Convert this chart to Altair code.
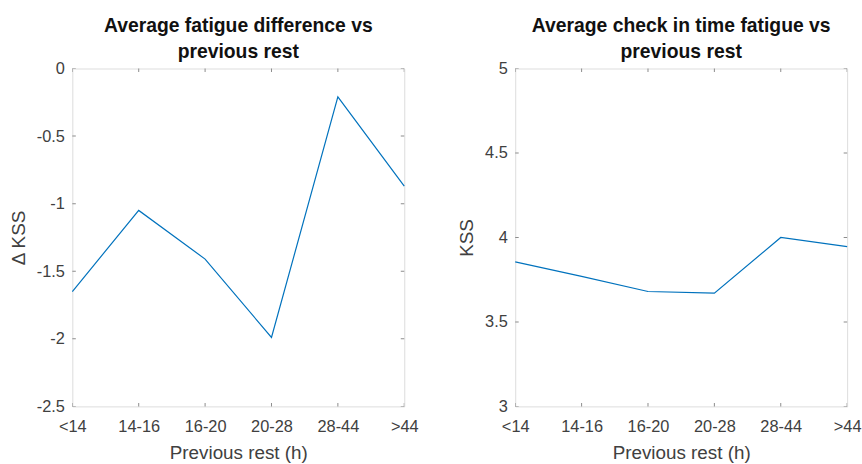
import altair as alt
import pandas as pd

categories = ["<14", "14-16", "16-20", "20-28", "28-44", ">44"]
fatigue_diff = [-1.65, -1.05, -1.41, -1.99, -0.21, -0.87]
checkin_kss = [3.855, 3.77, 3.68, 3.67, 4.00, 3.946]
left_yticks = [-2.5, -2, -1.5, -1, -0.5, 0]
right_yticks = [3, 3.5, 4, 4.5, 5]
left_title = ["Average fatigue difference vs", "previous rest"]
right_title = ["Average check in time fatigue vs", "previous rest"]
x_title = "Previous rest (h)"
left_ytitle = "Δ KSS"
right_ytitle = "KSS"

FONT = "Liberation Sans"
LINE = "#0072BD"
AX = "#8c8c8c"
TXT = "#404040"
W, H = 335, 341


def panel(values, yticks, title, ytitle):
    ymin, ymax = yticks[0], yticks[-1]
    df = pd.DataFrame({"cat": categories, "v": values})
    xs = alt.X("cat:N", sort=categories,
               scale=alt.Scale(type="point", padding=0, domain=categories),
               axis=alt.Axis(title=x_title, ticks=False, domain=False, labelAngle=0,
                             labelPadding=12, labelFlush=False, labelOverlap=False,
                             labelFontSize=16.5, titleFontSize=19, titlePadding=9,
                             labelColor=TXT, titleColor=TXT, labelFont=FONT,
                             titleFont=FONT, titleFontWeight="normal", grid=False))
    ys = alt.Y("v:Q", scale=alt.Scale(domain=[ymin, ymax], nice=False, zero=False),
               axis=alt.Axis(title=ytitle, values=yticks, ticks=False, domain=False,
                             labelExpr="toString(datum.value)", labelPadding=8,
                             labelFontSize=16.5, titleFontSize=19, titlePadding=8,
                             labelColor=TXT, titleColor=TXT, labelFont=FONT,
                             titleFont=FONT, titleFontWeight="normal", grid=False))
    line = alt.Chart(df).mark_line(color=LINE, strokeWidth=1.2).encode(x=xs, y=ys)

    xt = pd.DataFrame([{"cat": c, "v": b} for c in categories for b in (ymin, ymax)])
    xticks = alt.Chart(xt).mark_tick(orient="vertical", size=7, thickness=1,
                                     color=AX, clip=True, opacity=1).encode(
        x=alt.X("cat:N", sort=categories), y="v:Q")
    yt = pd.DataFrame([{"cat": c, "v": t} for c in (categories[0], categories[-1]) for t in yticks])
    yticks_m = alt.Chart(yt).mark_tick(orient="horizontal", size=7, thickness=1,
                                       color=AX, clip=True, opacity=1).encode(
        x=alt.X("cat:N", sort=categories), y="v:Q")

    return alt.layer(line, xticks, yticks_m).properties(
        width=W, height=H,
        title=alt.TitleParams(title, fontSize=19.5, fontWeight="bold", font=FONT,
                              color="#111111", lineHeight=26, offset=-2, anchor="middle"))


left = panel(fatigue_diff, left_yticks, left_title, left_ytitle)
right = panel(checkin_kss, right_yticks, right_title, right_ytitle)

chart = alt.hconcat(left, right, spacing=38).properties(
    padding={"left": 9, "top": 14, "right": 0, "bottom": 0}
).configure_view(stroke=AX, strokeWidth=1.3).configure(background="white")

chart.save("out.html", embed_options={"renderer": "svg", "actions": False})
